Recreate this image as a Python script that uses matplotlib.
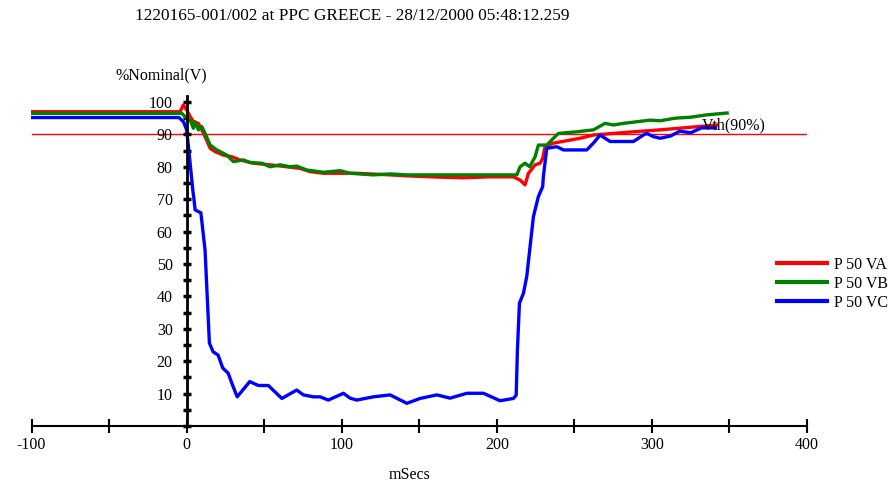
import matplotlib
matplotlib.use("Agg")
import matplotlib.pyplot as plt
from matplotlib.ticker import MultipleLocator, FixedLocator

plt.rcParams['font.family'] = ['Liberation Serif', 'DejaVu Serif']

title = "1220165-001/002 at PPC GREECE - 28/12/2000 05:48:12.259"
y_label = "%Nominal(V)"
x_label = "mSecs"
threshold = 90
threshold_label = "Vth(90%)"
series_names = ["P 50 VA", "P 50 VB", "P 50 VC"]
series_colors = ["#ff0000", "#008000", "#0000ff"]

va_x = [-100, -4.2, -2.1, 0.1, 2.3, 4.4, 7.6, 9.8, 11.9, 15.2, 18.4, 23.7, 29.1, 34.5,
        43.1, 53.8, 64.6, 73.2, 79.6, 88.2, 99, 109.7, 131.2, 142, 163.4, 178.5, 195.7,
        210.7, 215, 218.2, 220.4, 224.7, 227.9, 229.6, 231.1, 236.5, 253.7, 262.3, 275.2,
        288.1, 305.3, 320, 342]
va_y = [97.0, 97.0, 99.1, 97.5, 95.5, 93.9, 93.4, 91.4, 89.3, 85.7, 84.7, 83.6, 83.1, 82.1,
        81.1, 80.6, 80.0, 79.5, 78.5, 78.0, 78.0, 78.0, 77.5, 77.2, 76.8, 76.6, 76.9,
        76.9, 75.9, 74.4, 78.0, 80.6, 81.1, 82.6, 86.2, 87.3, 88.8, 89.8, 90.3,
        90.8, 91.4, 92.0, 92.9]

vb_x = [-100, -3.1, 0.1, 2.3, 4.4, 5.5, 7.6, 9.8, 11.9, 15.2, 19.5, 25.9, 30.2, 36.6, 40.9,
        48.5, 53.8, 60.3, 66.7, 71, 77.5, 88.2, 99, 105.4, 120.4, 131.2, 142, 163.4, 184.9,
        210.7, 212.9, 215, 218.2, 221.2, 224.7, 226.8, 232.2, 236.5, 239.7, 251.6, 262.3,
        269.8, 275.2, 281.6, 290.3, 298.8, 305.3, 315, 325, 335, 348.5]
vb_y = [96.5, 96.5, 95.0, 94.4, 91.9, 93.9, 91.4, 92.4, 90.3, 86.7, 85.2, 83.6, 81.6, 82.1, 81.3,
        81.1, 80.0, 80.6, 80.0, 80.2, 79.0, 78.3, 78.8, 78.0, 77.5, 77.8, 77.5, 77.5, 77.5,
        77.5, 77.5, 80.0, 81.1, 80.0, 83.1, 86.7, 86.7, 88.8, 90.3, 90.8, 91.4,
        93.4, 92.9, 93.4, 93.9, 94.4, 94.2, 95.0, 95.3, 96.0, 96.6]

vc_x = [-100, -5, -2, 0, 1.2, 2.7, 4, 4.8, 5.5, 9.2, 11.9, 14.7, 17.1, 20.3, 23.3, 26.8, 29.1,
        32.6, 40.7, 46.3, 52.7, 61.4, 71.0, 75.3, 81.8, 86.1, 91.4, 101.1, 105.4, 109.7, 120.4,
        131.2, 142.0, 150.5, 161.3, 169.9, 180.7, 191.4, 202.1, 210.7, 212.5, 213.3, 214.6,
        217.2, 219.3, 223.6, 226.8, 229.6, 230.0, 232.2, 238.7, 243, 258, 262.3, 266.6, 269.8,
        273.1, 288.1, 294.5, 296.7, 301, 305.3, 312, 318, 325, 332, 341]
vc_y = [95.2, 95.2, 93.9, 91.4, 86.2, 79.0, 72.8, 69.8, 66.7, 65.8, 54.3, 25.6, 22.9, 21.9, 17.9,
        16.3, 13.3, 9.0, 13.7, 12.5, 12.5, 8.5, 11.1, 9.6, 9.0, 9.0, 8.0, 10.1, 8.6, 8.0, 9.0,
        9.6, 7.0, 8.5, 9.6, 8.6, 10.1, 10.1, 7.8, 8.5, 9.5, 23.5, 37.9,
        41.0, 46.1, 64.6, 70.8, 73.9, 76.9, 85.7, 86.2, 85.2, 85.2, 87.3, 89.8, 88.8,
        87.8, 87.8, 89.8, 90.3, 89.3, 88.8, 89.5, 91.0, 90.5, 92.0, 92.0]

x_ticks_major = [-100, 0, 100, 200, 300, 400]
x_ticks_minor = [-50, 50, 150, 250, 350]
y_ticks = [10, 20, 30, 40, 50, 60, 70, 80, 90, 100]

FS = 11.5
fig = plt.figure(figsize=(8.95, 4.83), dpi=100)
ax = fig.add_axes([31.5 / 895, 57 / 483, (807 - 31.5) / 895, 330.5 / 483])
ax.set_xlim(-100, 400)
ax.set_ylim(0, 102)

lines = []
for xs, ys, c, n in [(va_x, va_y, series_colors[0], series_names[0]),
                     (vb_x, vb_y, series_colors[1], series_names[1]),
                     (vc_x, vc_y, series_colors[2], series_names[2])]:
    l, = ax.plot(xs, ys, color=c, lw=2.4, label=n, solid_joinstyle='round')
    lines.append(l)

ax.plot([-100, 400], [threshold, threshold], color="#ff0000", lw=1.0, zorder=1)
ax.text(332, threshold + 0.3, threshold_label, fontsize=FS, va='bottom', ha='left')

for s in ['top', 'right']:
    ax.spines[s].set_visible(False)
ax.spines['left'].set_position(('data', 0))
ax.spines['left'].set_linewidth(2)
ax.spines['bottom'].set_linewidth(1.5)

ax.xaxis.set_major_locator(FixedLocator(x_ticks_major))
ax.xaxis.set_minor_locator(FixedLocator(x_ticks_minor))
ax.set_xticklabels([str(v) for v in x_ticks_major])
ax.yaxis.set_major_locator(FixedLocator(y_ticks))
ax.yaxis.set_minor_locator(MultipleLocator(5))
ax.set_yticklabels([str(v) for v in y_ticks])

ax.tick_params(axis='x', which='both', direction='inout', length=10, width=1.5, pad=3, labelsize=FS)
ax.tick_params(axis='y', which='both', direction='inout', length=6, width=2.5, pad=7, labelsize=FS)

fig.text(352 / 895, 1 - 16 / 483, title, ha='center', va='center', fontsize=12.4)
fig.text(161 / 895, 1 - 75 / 483, y_label, ha='center', va='center', fontsize=FS)
fig.text(410 / 895, 1 - 475 / 483, x_label, ha='center', va='center', fontsize=FS)

fig.legend(handles=lines, labels=series_names, loc='upper left',
           bbox_to_anchor=(777 / 895, 1 - 257 / 483), frameon=False, fontsize=FS,
           handlelength=3.1, handletextpad=0.5, labelspacing=0.18, borderpad=0,
           borderaxespad=0)
for lh in fig.legends[0].get_lines():
    lh.set_linewidth(3)

fig.savefig("out.png", dpi=100)
